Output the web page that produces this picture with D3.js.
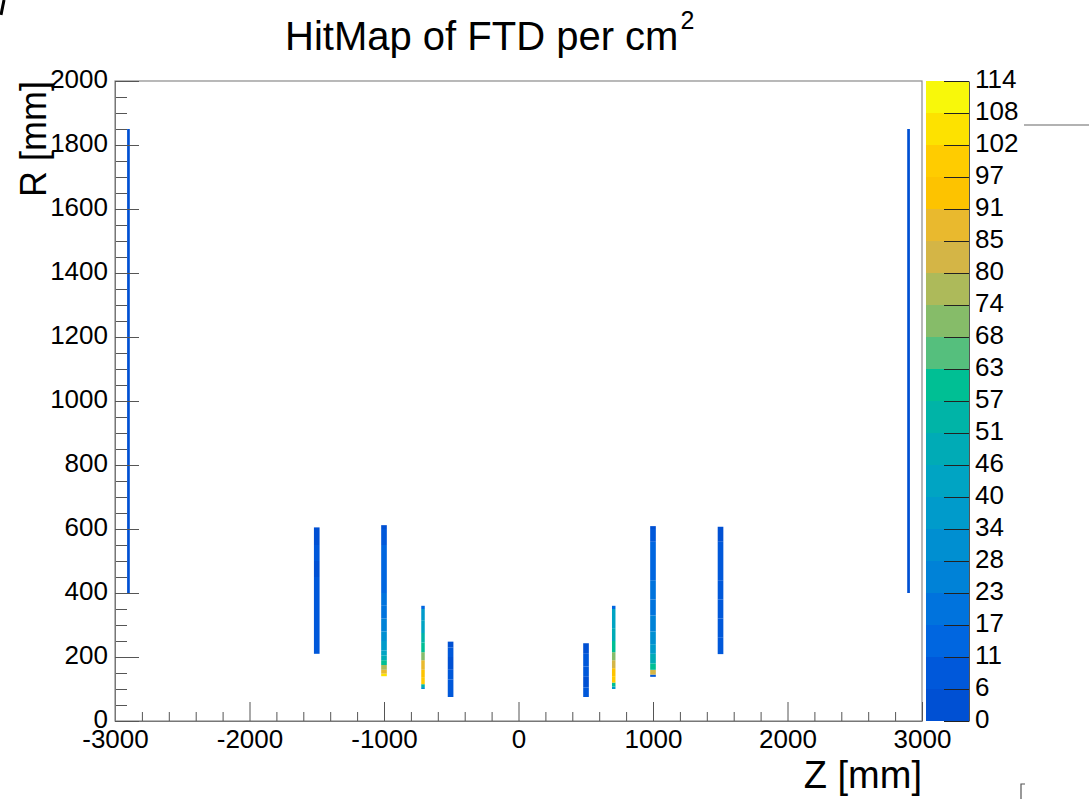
<!DOCTYPE html>
<html>
<head>
<meta charset="utf-8">
<script src="https://cdn.jsdelivr.net/npm/d3@7"></script>
<style>
  body { margin: 0; background: #fff; }
  svg text { font-family: "Liberation Sans", Arial, sans-serif; fill: #000; }
</style>
</head>
<body>
<svg id="hitmap" width="1089" height="799"></svg>
<script>
// ---- data ----
// disk positions along Z [mm] and their bin width in Z [mm]
var diskZ     = [-2900, -1500, -1000, -710, -505, 502, 708, 1000, 1502, 2900];
var diskWidth = [20, 42, 42, 26, 42, 42, 26, 42, 42, 20];

// hits per cm2 along R for each disk: [rLow, rHigh, value]
var diskM2900 = [[400, 1000, 3], [1000, 1850, 2]];
var diskM1500 = [[210, 250, 9], [250, 300, 7], [300, 350, 10], [350, 400, 6], [400, 450, 9], [450, 500, 5], [500, 550, 8], [550, 605, 4]];
var diskM1000 = [[140, 148, 105], [148, 160, 88], [160, 175, 78], [175, 190, 60], [190, 205, 50], [205, 220, 42], [220, 250, 35], [250, 280, 30], [280, 320, 26], [320, 360, 22], [360, 400, 19], [400, 450, 16], [450, 500, 14], [500, 550, 12], [550, 600, 10], [600, 612, 4]];
var diskM710  = [[100, 106, 30], [106, 115, 55], [115, 135, 100], [135, 160, 95], [160, 190, 88], [190, 215, 72], [215, 245, 62], [245, 275, 52], [275, 315, 45], [315, 350, 38], [350, 360, 12]];
var diskM505  = [[75, 100, 9], [100, 130, 6], [130, 160, 10], [160, 200, 5], [200, 230, 8], [230, 248, 3]];
var diskP502  = [[75, 105, 8], [105, 140, 5], [140, 170, 9], [170, 210, 6], [210, 243, 3]];
var diskP708  = [[100, 108, 35], [108, 120, 60], [120, 140, 98], [140, 165, 92], [165, 190, 80], [190, 215, 72], [215, 250, 60], [250, 290, 50], [290, 350, 40], [350, 360, 15]];
var diskP1000 = [[138, 145, 8], [145, 160, 80], [160, 180, 62], [180, 210, 48], [210, 240, 38], [240, 280, 32], [280, 330, 26], [330, 380, 22], [380, 440, 18], [440, 500, 15], [500, 560, 13], [560, 600, 11], [600, 609, 5]];
var diskP1502 = [[209, 260, 8], [260, 320, 11], [320, 380, 7], [380, 440, 10], [440, 500, 6], [500, 560, 9], [560, 607, 4]];
var diskP2900 = [[400, 1000, 3], [1000, 1850, 2]];
var diskBins  = [diskM2900, diskM1500, diskM1000, diskM710, diskM505, diskP502, diskP708, diskP1000, diskP1502, diskP2900];

// axis ticks
var xTickLabels = ["-3000", "-2000", "-1000", "0", "1000", "2000", "3000"];
var yTickLabels = ["0", "200", "400", "600", "800", "1000", "1200", "1400", "1600", "1800", "2000"];

// colour palette (20 contours, bottom to top) and its labels
var zMax = 113.9;
var paletteColors = ["#0050d3", "#0058da", "#0066e0", "#0073dd", "#0082d7", "#008fd1", "#009bcb", "#00a4c3",
                     "#00abb6", "#00b4a7", "#00bf94", "#55bf7d", "#86bc69", "#adba5a", "#d4b546", "#e9b92e",
                     "#fdc300", "#ffcc00", "#fde200", "#f8f80a"];
var zTickLabels = ["0", "6", "11", "17", "23", "28", "34", "40", "46", "51", "57",
                   "63", "68", "74", "80", "85", "91", "97", "102", "108", "114"];

// ---- layout ----
var frame = {left: 115, right: 922, top: 81, bottom: 721};
var bar = {left: 926, right: 969};

var svg = d3.select("#hitmap");

var x = d3.scaleLinear().domain([-3000, 3000]).range([frame.left, frame.right]);
var y = d3.scaleLinear().domain([0, 2000]).range([frame.bottom, frame.top]);
var zy = d3.scaleLinear().domain([0, zMax]).range([frame.bottom, frame.top]);

var nCont = paletteColors.length;
var contourEdges = d3.range(nCont + 1).map(function(i) { return i * zMax / nCont; });
var color = d3.scaleThreshold().domain(contourEdges.slice(1, -1)).range(paletteColors);

// Title
var title = svg.append("text")
    .attr("x", 285)
    .attr("y", 50)
    .style("font-size", "40px")
    .text("HitMap of FTD per cm");
title.append("tspan")
    .attr("dy", -21)
    .attr("dx", 2)
    .style("font-size", "25px")
    .text("2");

// Hit map cells
var cells = [];
diskBins.forEach(function(bins, i) {
    bins.forEach(function(b) {
        cells.push({z0: diskZ[i] - diskWidth[i] / 2, z1: diskZ[i] + diskWidth[i] / 2, r0: b[0], r1: b[1], v: b[2]});
    });
});

svg.append("g").selectAll("rect")
    .data(cells)
    .enter()
    .append("rect")
    .attr("x", function(d) { return x(d.z0); })
    .attr("width", function(d) { return x(d.z1) - x(d.z0); })
    .attr("y", function(d) { return y(d.r1); })
    .attr("height", function(d) { return y(d.r0) - y(d.r1); })
    .attr("fill", function(d) { return color(d.v); });

// Frame
svg.append("rect")
    .attr("x", frame.left)
    .attr("y", frame.top)
    .attr("width", frame.right - frame.left)
    .attr("height", frame.bottom - frame.top)
    .attr("fill", "none")
    .attr("stroke", "#8a8a8a")
    .attr("stroke-width", 1.2);

// X axis, major and minor ticks pointing inwards
var xMinor = d3.range(-3000, 3001, 200).filter(function(v) { return v % 1000 !== 0; });
svg.append("g")
    .attr("transform", "translate(0," + frame.bottom + ")")
    .call(d3.axisBottom(x).tickValues(xMinor).tickSizeInner(-9).tickSizeOuter(0).tickFormat(""))
    .call(function(g) { g.select(".domain").remove(); });
svg.append("g")
    .attr("class", "xaxis")
    .attr("transform", "translate(0," + frame.bottom + ")")
    .call(d3.axisBottom(x)
        .tickValues(xTickLabels.map(Number))
        .tickSizeInner(-19).tickSizeOuter(0).tickPadding(9)
        .tickFormat(function(d, i) { return xTickLabels[i]; }));

// Y axis
var yMinor = d3.range(0, 2001, 50).filter(function(v) { return v % 200 !== 0; });
svg.append("g")
    .attr("transform", "translate(" + frame.left + ",0)")
    .call(d3.axisLeft(y).tickValues(yMinor).tickSizeInner(-12).tickSizeOuter(0).tickFormat(""))
    .call(function(g) { g.select(".domain").remove(); });
svg.append("g")
    .attr("class", "yaxis")
    .attr("transform", "translate(" + frame.left + ",0)")
    .call(d3.axisLeft(y)
        .tickValues(yTickLabels.map(Number))
        .tickSizeInner(-24).tickSizeOuter(0).tickPadding(7)
        .tickFormat(function(d, i) { return yTickLabels[i]; }));

svg.selectAll(".xaxis text, .yaxis text")
    .style("font-size", "26px");
svg.selectAll(".yaxis text").attr("dy", "0.24em");
svg.selectAll("g .tick line").attr("stroke", "#555");
svg.selectAll(".domain").attr("stroke", "#777");

// Axis titles
svg.append("text")
    .attr("transform", "translate(46," + frame.top + ") rotate(-90)")
    .style("text-anchor", "end")
    .style("font-size", "36px")
    .text("R [mm]");

svg.append("text")
    .attr("x", frame.right)
    .attr("y", 788)
    .style("text-anchor", "end")
    .style("font-size", "38px")
    .text("Z [mm]");

// Colour palette
svg.append("g").selectAll("rect")
    .data(paletteColors)
    .enter()
    .append("rect")
    .attr("x", bar.left)
    .attr("width", bar.right - bar.left)
    .attr("y", function(d, i) { return zy(contourEdges[i + 1]); })
    .attr("height", function(d, i) { return zy(contourEdges[i]) - zy(contourEdges[i + 1]); })
    .attr("fill", function(d) { return d; })
    .attr("shape-rendering", "crispEdges");

var zAxis = svg.append("g")
    .attr("transform", "translate(" + bar.right + ",0)")
    .call(d3.axisRight(zy)
        .tickValues(contourEdges)
        .tickSizeInner(-25).tickSizeOuter(0).tickPadding(6)
        .tickFormat(function(d, i) { return zTickLabels[i]; }));
zAxis.selectAll("text").style("font-size", "26px").attr("dy", "0.26em");
zAxis.selectAll(".tick line").attr("stroke", "#222");
zAxis.select(".domain").attr("stroke", "#555");

// bits of neighbouring pads visible at the edges of the picture
svg.append("line")
    .attr("x1", 4).attr("y1", 0).attr("x2", 1).attr("y2", 15)
    .attr("stroke", "#000").attr("stroke-width", 3);
svg.append("line")
    .attr("x1", 1024).attr("y1", 125).attr("x2", 1089).attr("y2", 125)
    .attr("stroke", "#999").attr("stroke-width", 1.5);
svg.append("path")
    .attr("d", "M1025,784 H1021 V799")
    .attr("fill", "none")
    .attr("stroke", "#555").attr("stroke-width", 1.2);
</script>
</body>
</html>
